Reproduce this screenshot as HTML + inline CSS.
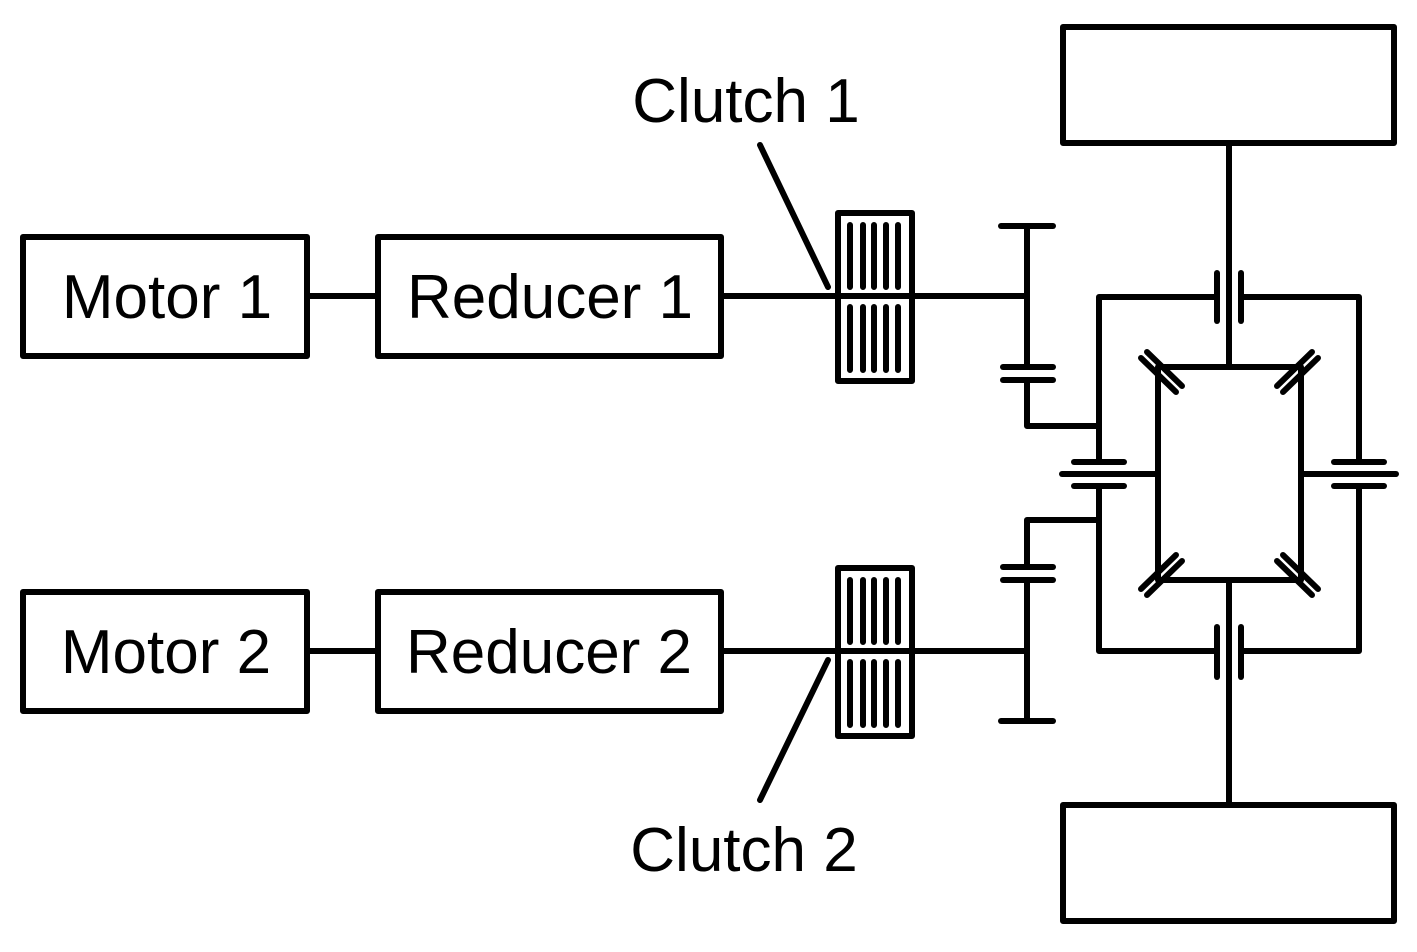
<!DOCTYPE html>
<html><head><style>body{margin:0;background:#fff}svg{display:block}</style></head><body>
<svg width="1417" height="952" viewBox="0 0 1417 952" xmlns="http://www.w3.org/2000/svg">
<g fill="none" stroke="#000" stroke-width="6" stroke-linecap="round" stroke-linejoin="round">
<rect x="23" y="237" width="284" height="119"/>
<rect x="378" y="237" width="343" height="119"/>
<rect x="23" y="592" width="284" height="119"/>
<rect x="378" y="592" width="343" height="119"/>
<rect x="1063" y="27" width="331" height="116"/>
<rect x="1063" y="805" width="331" height="116"/>
<line x1="307" y1="296" x2="378" y2="296"/>
<line x1="307" y1="651" x2="378" y2="651"/>
<line x1="721" y1="296" x2="1027" y2="296"/>
<line x1="721" y1="651" x2="1027" y2="651"/>
<rect x="838" y="213" width="74" height="168"/>
<rect x="838" y="568" width="74" height="168"/>
<g>
<path d="M850 287 V225 M863 287 V225 M874 287 V225 M886 287 V225 M898 287 V225"/>
<path d="M850 370 V307 M863 370 V307 M874 370 V307 M886 370 V307 M898 370 V307"/>
<path d="M850 642 V580 M863 642 V580 M874 642 V580 M886 642 V580 M898 642 V580"/>
<path d="M850 725 V662 M863 725 V662 M874 725 V662 M886 725 V662 M898 725 V662"/>
</g>
<line x1="760" y1="145" x2="828" y2="287"/>
<line x1="760" y1="800" x2="828" y2="660"/>
<line x1="1001" y1="226" x2="1053" y2="226"/>
<line x1="1027" y1="226" x2="1027" y2="367"/>
<line x1="1003" y1="367" x2="1053" y2="367"/>
<line x1="1003" y1="380" x2="1053" y2="380"/>
<polyline points="1027,380 1027,426 1099,426"/>
<line x1="1001" y1="721" x2="1053" y2="721"/>
<line x1="1027" y1="721" x2="1027" y2="580"/>
<line x1="1003" y1="580" x2="1053" y2="580"/>
<line x1="1003" y1="567" x2="1053" y2="567"/>
<polyline points="1027,567 1027,520 1099,520"/>
<polyline points="1099,462 1099,297 1217,297"/>
<polyline points="1099,486 1099,651 1217,651"/>
<polyline points="1359,462 1359,297 1241,297"/>
<polyline points="1359,486 1359,651 1241,651"/>
<line x1="1217" y1="273" x2="1217" y2="321"/>
<line x1="1241" y1="273" x2="1241" y2="321"/>
<line x1="1217" y1="627" x2="1217" y2="677"/>
<line x1="1241" y1="627" x2="1241" y2="677"/>
<line x1="1229" y1="143" x2="1229" y2="367"/>
<line x1="1229" y1="580" x2="1229" y2="805"/>
<line x1="1074" y1="462" x2="1124" y2="462"/>
<line x1="1074" y1="486" x2="1124" y2="486"/>
<line x1="1062" y1="474" x2="1158" y2="474"/>
<line x1="1334" y1="462" x2="1384" y2="462"/>
<line x1="1334" y1="486" x2="1384" y2="486"/>
<line x1="1301" y1="474" x2="1396" y2="474"/>
<rect x="1158" y="367" width="143" height="213"/>
<line x1="1141" y1="358" x2="1176" y2="392"/>
<line x1="1147" y1="352" x2="1182" y2="386"/>
<line x1="1318" y1="358" x2="1283" y2="392"/>
<line x1="1312" y1="352" x2="1277" y2="386"/>
<line x1="1141" y1="589" x2="1176" y2="555"/>
<line x1="1147" y1="595" x2="1182" y2="561"/>
<line x1="1318" y1="589" x2="1283" y2="555"/>
<line x1="1312" y1="595" x2="1277" y2="561"/>
</g>
<g font-family="Liberation Sans, sans-serif" font-size="62" fill="#000" text-anchor="middle">
<text x="167" y="318">Motor 1</text>
<text x="550" y="318">Reducer 1</text>
<text x="166" y="673">Motor 2</text>
<text x="549" y="673">Reducer 2</text>
<text x="746" y="122">Clutch 1</text>
<text x="744" y="871">Clutch 2</text>
</g>
</svg>
</body></html>
